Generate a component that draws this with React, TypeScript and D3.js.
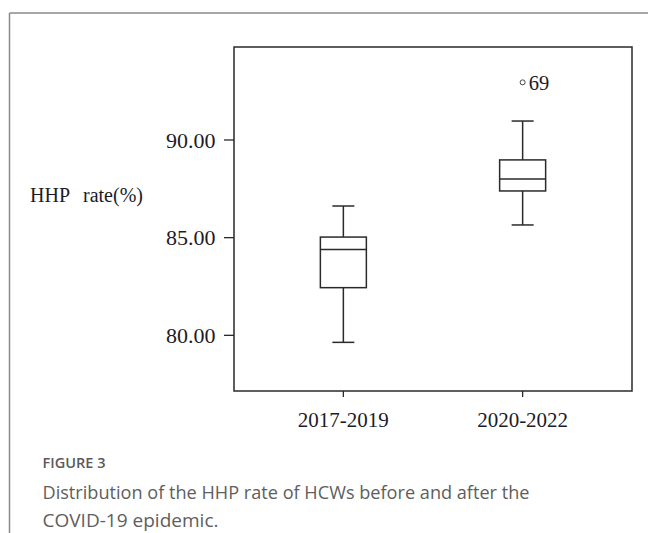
import React from "react";
import * as d3 from "d3";

const categories = ["2017-2019", "2020-2022"];
const whiskerLow = [79.64, 85.65];
const q1 = [82.44, 87.39];
const median = [84.4, 88.0];
const q3 = [85.03, 88.98];
const whiskerHigh = [86.62, 90.97];
const outliers = [{ cat: "2020-2022", value: 92.95, label: "69" }];
const yTicks = [80, 85, 90];

const W = 648;
const H = 533;
const plot = { left: 234, right: 632, top: 47, bottom: 391 };

export default function App() {
  const y = d3.scaleLinear().domain([77.15, 94.76]).range([plot.bottom, plot.top]);
  const x = d3.scalePoint<string>().domain(categories).range([plot.left, plot.right]).padding(0.61);
  const boxW = 46;
  const capW = 22;
  const serif = "'Liberation Serif', 'Times New Roman', serif";
  const sans = "'Open Sans', 'Noto Sans', sans-serif";
  const stroke = "#2a2a2a";
  const ink = "#1c1c28";

  return (
    <svg width={W} height={H} style={{ position: "absolute", left: 0, top: 0, background: "#fff" }}>
      {/* outer frame */}
      <line x1={9.5} y1={13} x2={W} y2={13} stroke="#8a8a8a" strokeWidth={1.5} />
      <line x1={9.5} y1={13} x2={9.5} y2={H} stroke="#8a8a8a" strokeWidth={1.5} />

      {/* plot box */}
      <rect x={plot.left} y={plot.top} width={plot.right - plot.left} height={plot.bottom - plot.top}
        fill="none" stroke={stroke} strokeWidth={1.5} />

      {/* y ticks */}
      {yTicks.map((t) => (
        <g key={t}>
          <line x1={plot.left - 10} x2={plot.left} y1={y(t)} y2={y(t)} stroke={stroke} strokeWidth={1.3} />
          <text x={plot.left - 18.5} y={y(t)} dy="0.35em" textAnchor="end" fontFamily={serif} fontSize={22} fill={ink}>
            {d3.format(".2f")(t)}
          </text>
        </g>
      ))}

      {/* y label */}
      <text x={30} y={202} fontFamily={serif} fontSize={20} fill={ink}>
        HHP<tspan x={83}>rate(%)</tspan>
      </text>

      {/* x ticks */}
      {categories.map((c) => (
        <g key={c}>
          <line x1={x(c)} x2={x(c)} y1={plot.bottom} y2={plot.bottom + 6} stroke={stroke} strokeWidth={1.3} />
          <text x={x(c)} y={426.5} textAnchor="middle" fontFamily={serif} fontSize={21} fill={ink}>{c}</text>
        </g>
      ))}

      {/* boxes */}
      {categories.map((c, i) => {
        const cx = x(c)!;
        return (
          <g key={c} stroke={stroke} strokeWidth={1.5} fill="none">
            <line x1={cx} x2={cx} y1={y(whiskerHigh[i])} y2={y(q3[i])} />
            <line x1={cx} x2={cx} y1={y(q1[i])} y2={y(whiskerLow[i])} />
            <line x1={cx - capW / 2} x2={cx + capW / 2} y1={y(whiskerHigh[i])} y2={y(whiskerHigh[i])} />
            <line x1={cx - capW / 2} x2={cx + capW / 2} y1={y(whiskerLow[i])} y2={y(whiskerLow[i])} />
            <rect x={cx - boxW / 2} y={y(q3[i])} width={boxW} height={y(q1[i]) - y(q3[i])} fill="#fff" />
            <line x1={cx - boxW / 2} x2={cx + boxW / 2} y1={y(median[i])} y2={y(median[i])} />
          </g>
        );
      })}

      {/* outliers */}
      {outliers.map((o) => (
        <g key={o.label}>
          <circle cx={x(o.cat)} cy={y(o.value)} r={2.5} fill="none" stroke="#444" strokeWidth={1} />
          <text x={x(o.cat)! + 6} y={y(o.value)} dy="0.35em" fontFamily={serif} fontSize={20.5} fill={ink}>{o.label}</text>
        </g>
      ))}

      {/* caption */}
      <text x={42.5} y={468} fontFamily={sans} fontSize={14} fontWeight={600} fill="#5a5a5a"
        textLength={63} lengthAdjust="spacingAndGlyphs">FIGURE 3</text>
      <text x={42.5} y={499} fontFamily={sans} fontSize={18} fontWeight={400} fill="#5e5e5e"
        textLength={487} lengthAdjust="spacingAndGlyphs">
        Distribution of the HHP rate of HCWs before and after the
      </text>
      <text x={42.5} y={527} fontFamily={sans} fontSize={18} fontWeight={400} fill="#5e5e5e"
        textLength={176} lengthAdjust="spacingAndGlyphs">
        COVID-19 epidemic.
      </text>
    </svg>
  );
}
